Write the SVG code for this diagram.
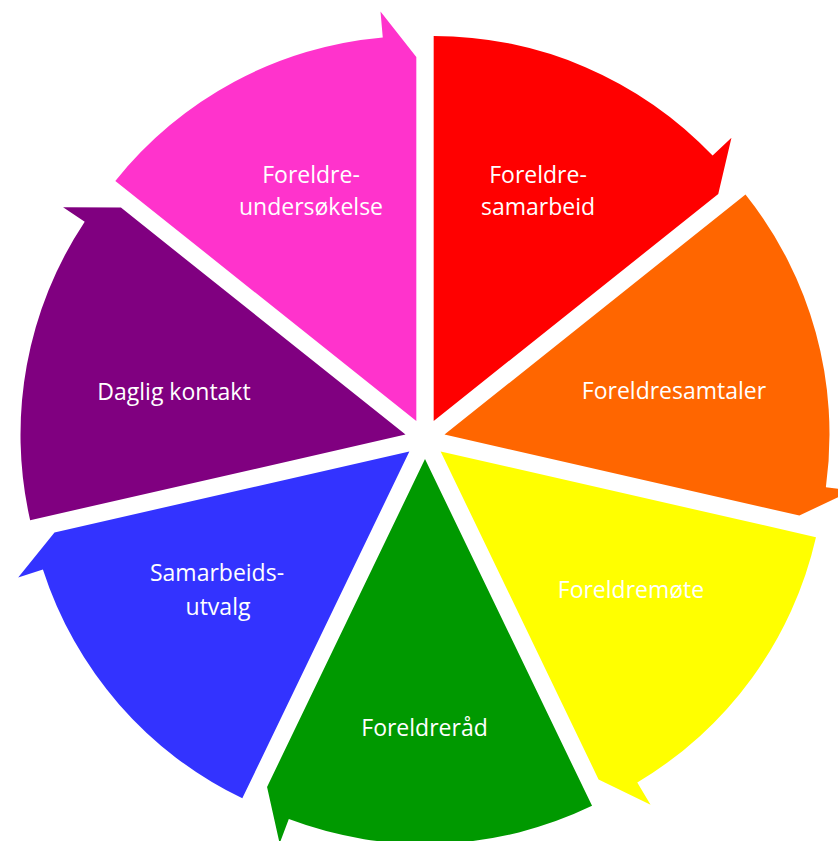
<svg xmlns="http://www.w3.org/2000/svg" width="838" height="841" viewBox="0 0 838 841">
<style>
.lbl{font-family:"Open Sans","Noto Sans","Liberation Sans",sans-serif;font-size:23px;fill:#ffffff;text-anchor:middle}
</style>
<rect width="838" height="841" fill="#ffffff"/>
<g id="connectors"></g>
<g id="seg-red">
<path fill="#FF0000" d="M433.678,420.981 L433.678,35.981 A385,385 0 0 1 712.618,155.616 L731.456,137.695 L718.264,194.031 Z"/>
<text class="lbl" x="538" y="183">Foreldre-</text>
<text class="lbl" x="538" y="215">samarbeid</text>
</g>
<g id="seg-orange">
<path fill="#FF6600" d="M444.499,434.550 L745.504,194.506 A385,385 0 0 1 825.885,487.180 L851.641,490.735 L799.373,515.548 Z"/>
<text class="lbl" x="674" y="399">Foreldresamtaler</text>
</g>
<g id="seg-yellow">
<path fill="#FFFF00" d="M440.637,451.470 L815.984,537.141 A385,385 0 0 1 637.279,782.464 L650.559,804.817 L598.571,779.423 Z"/>
<text class="lbl" x="631" y="598">Foreldremøte</text>
</g>
<g id="seg-green">
<path fill="#009900" d="M425,459 L592.045,805.873 A385,385 0 0 1 288.823,819.114 L279.626,843.433 L267.066,786.953 Z"/>
<text class="lbl" x="424.5" y="736">Foreldreråd</text>
</g>
<g id="seg-blue">
<path fill="#3333FF" d="M409.363,451.470 L242.318,798.343 A385,385 0 0 1 42.910,569.528 L18.163,577.501 L54.489,532.468 Z"/>
<text class="lbl" x="217" y="581">Samarbeids-</text>
<text class="lbl" x="218" y="615">utvalg</text>
</g>
<g id="seg-purple">
<path fill="#800080" d="M405.501,434.550 L30.154,520.221 A385,385 0 0 1 84.721,221.654 L63.057,207.277 L120.915,207.600 Z"/>
<text class="lbl" x="174" y="400">Daglig kontakt</text>
</g>
<g id="seg-pink">
<path fill="#FF33CC" d="M416.322,420.981 L115.317,180.937 A385,385 0 0 1 382.767,37.446 L380.501,11.545 L416.322,56.981 Z"/>
<text class="lbl" x="311" y="183">Foreldre-</text>
<text class="lbl" x="311" y="215">undersøkelse</text>
</g>
</svg>
